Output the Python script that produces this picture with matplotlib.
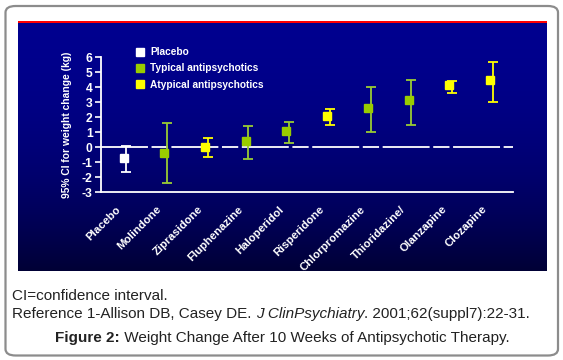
import numpy as np
import matplotlib
matplotlib.use("Agg")
import matplotlib.pyplot as plt
from matplotlib.patches import Rectangle, FancyBboxPatch
from matplotlib.lines import Line2D
from matplotlib.transforms import ScaledTranslation

# ---- data ----
drugs = ["Placebo", "Molindone", "Ziprasidone", "Fluphenazine", "Haloperidol",
         "Risperidone", "Chlorpromazine", "Thioridazine/", "Olanzapine", "Clozapine"]
groups = ["Placebo", "Typical", "Atypical", "Typical", "Typical",
          "Atypical", "Typical", "Typical", "Atypical", "Atypical"]
means = [-0.71, -0.38, 0.03, 0.43, 1.08, 2.09, 2.63, 3.16, 4.15, 4.47]
ci_low = [-1.67, -2.40, -0.67, -0.80, 0.27, 1.47, 1.00, 1.47, 3.60, 3.00]
ci_high = [0.11, 1.60, 0.60, 1.42, 1.67, 2.53, 4.00, 4.47, 4.40, 5.67]
legend_labels = ["Placebo", "Typical antipsychotics", "Atypical antipsychotics"]
y_ticks = [-3, -2, -1, 0, 1, 2, 3, 4, 5, 6]

marker_col = {"Placebo": "#ffffff", "Typical": "#99cc00", "Atypical": "#ffff00"}
stem_col = {"Placebo": "#ffffff", "Typical": "#99cc33", "Atypical": "#ffff00"}
cap_col = {"Placebo": "#ffffff", "Typical": "#66ff33", "Atypical": "#ffff00"}

W, H = 563, 360
DPI = 100
fig = plt.figure(figsize=(W / DPI, H / DPI), dpi=DPI)
fig.patch.set_facecolor("white")

def fx(px):
    return px / W

def fy(py):
    return 1 - py / H

# outer rounded border
border = FancyBboxPatch((fx(5.5), fy(355.5)), fx(552.5), 349.5 / H,
                        boxstyle="round,pad=0,rounding_size=0.018",
                        transform=fig.transFigure, facecolor="white",
                        edgecolor="#8c8c8c", linewidth=1.6, zorder=0)
fig.add_artist(border)

# blue gradient panel
bg = fig.add_axes([fx(17.7), fy(271), fx(546.7 - 17.7), (271 - 23) / H], zorder=1)
t = np.linspace(0, 1, 256)[:, None]
blue = 0.56 - 0.05 * t - 0.30 * t ** 2.2
img = np.zeros((256, 2, 3))
img[..., 2] = blue
bg.imshow(img, aspect="auto", extent=[0, 1, 0, 1], origin="upper")
bg.set_axis_off()
# red top line
fig.add_artist(Rectangle((fx(17.7), fy(23.3)), fx(546.7 - 17.7), 2.3 / H,
                         transform=fig.transFigure, facecolor="#ff0000",
                         edgecolor="none", zorder=2))

# main axes
ax = fig.add_axes([fx(101), fy(192.3), fx(513 - 101), (192.3 - 57.3) / H], zorder=3)
ax.patch.set_alpha(0)
x = np.arange(len(drugs))
ax.set_xlim(-0.62, 9.5)
ax.set_ylim(-3, 6)

# zero line
ax.axhline(0, color="white", lw=1.3, dashes=(26, 2, 9, 2), zorder=1)

shift = ScaledTranslation(-2.6 / DPI, 0, fig.dpi_scale_trans)
for i in range(len(drugs)):
    g = groups[i]
    lo = means[i] - ci_low[i]
    hi = ci_high[i] - means[i]
    line, caps, bars = ax.errorbar([x[i]], [means[i]], yerr=[[lo], [hi]], fmt="none",
                                   ecolor=stem_col[g], elinewidth=1.3, capsize=3.4,
                                   capthick=1.3, zorder=2)
    for c in caps:
        c.set_color(cap_col[g])
    ax.plot([x[i]], [means[i]], marker="s", ms=6.4, color=marker_col[g],
            mec=marker_col[g], ls="none", zorder=3,
            transform=ax.transData + shift)

for s in ["top", "right"]:
    ax.spines[s].set_visible(False)
for s in ["left", "bottom"]:
    ax.spines[s].set_color("white")
    ax.spines[s].set_linewidth(1.3)

ax.set_yticks(y_ticks)
ax.set_yticklabels([str(v) for v in y_ticks])
ax.tick_params(axis="y", colors="white", direction="out", length=4, width=1.2,
               pad=2, labelsize=8.7)
for lab in ax.get_yticklabels():
    lab.set_fontfamily("Liberation Sans")
    lab.set_fontweight("bold")

ax.set_xticks(x)
ax.set_xticklabels(drugs, rotation=45, ha="right", va="center",
                   rotation_mode="anchor", fontsize=8.2, fontweight="bold",
                   family="Liberation Sans", color="white")
ax.tick_params(axis="x", length=0, pad=11)
xoff = ScaledTranslation(-7 / DPI, 0, fig.dpi_scale_trans)
for lab in ax.get_xticklabels():
    lab.set_transform(lab.get_transform() + xoff)

ax.set_ylabel("95% CI for weight change (kg)", color="white", fontsize=7.4,
              fontweight="bold", family="Liberation Sans", labelpad=7)

# legend
handles = [Line2D([], [], marker="s", ls="none", ms=5.2, color=marker_col[k],
                  mec=marker_col[k]) for k in ["Placebo", "Typical", "Atypical"]]
leg = ax.legend(handles, legend_labels, loc="upper left",
                bbox_to_anchor=(fx(130.5), fy(42)), bbox_transform=fig.transFigure,
                frameon=False, borderpad=0, handlelength=0.9, handletextpad=0.55,
                labelspacing=0.62,
                prop={"family": "Liberation Sans", "weight": "bold", "size": 7.3})
for txt in leg.get_texts():
    txt.set_color("white")

# captions
cap_kw = dict(family="Liberation Sans", fontsize=11, color="#222222")
fig.text(fx(12), fy(300), "CI=confidence interval.", ha="left", va="baseline", **cap_kw)
t1 = fig.text(fx(12), fy(318), "Reference 1-Allison DB, Casey DE. ", ha="left",
              va="baseline", **cap_kw)
t2 = fig.text(0, 0, "J ClinPsychiatry", style="italic", ha="left", va="baseline", **cap_kw)
t3 = fig.text(0, 0, ". 2001;62(suppl7):22-31.", ha="left", va="baseline", **cap_kw)
f1 = fig.text(fx(55), fy(342), "Figure 2:", fontweight="bold", ha="left",
              va="baseline", **cap_kw)
f2 = fig.text(0, 0, " Weight Change After 10 Weeks of Antipsychotic Therapy.", ha="left",
              va="baseline", **cap_kw)

renderer = fig.canvas.get_renderer()
def place_after(prev, nxt):
    bb = prev.get_window_extent(renderer)
    x0, y0 = prev.get_position()
    nxt.set_position((bb.x1 / (W), y0))

place_after(t1, t2)
place_after(t2, t3)
place_after(f1, f2)

fig.savefig("out.png", dpi=DPI)
